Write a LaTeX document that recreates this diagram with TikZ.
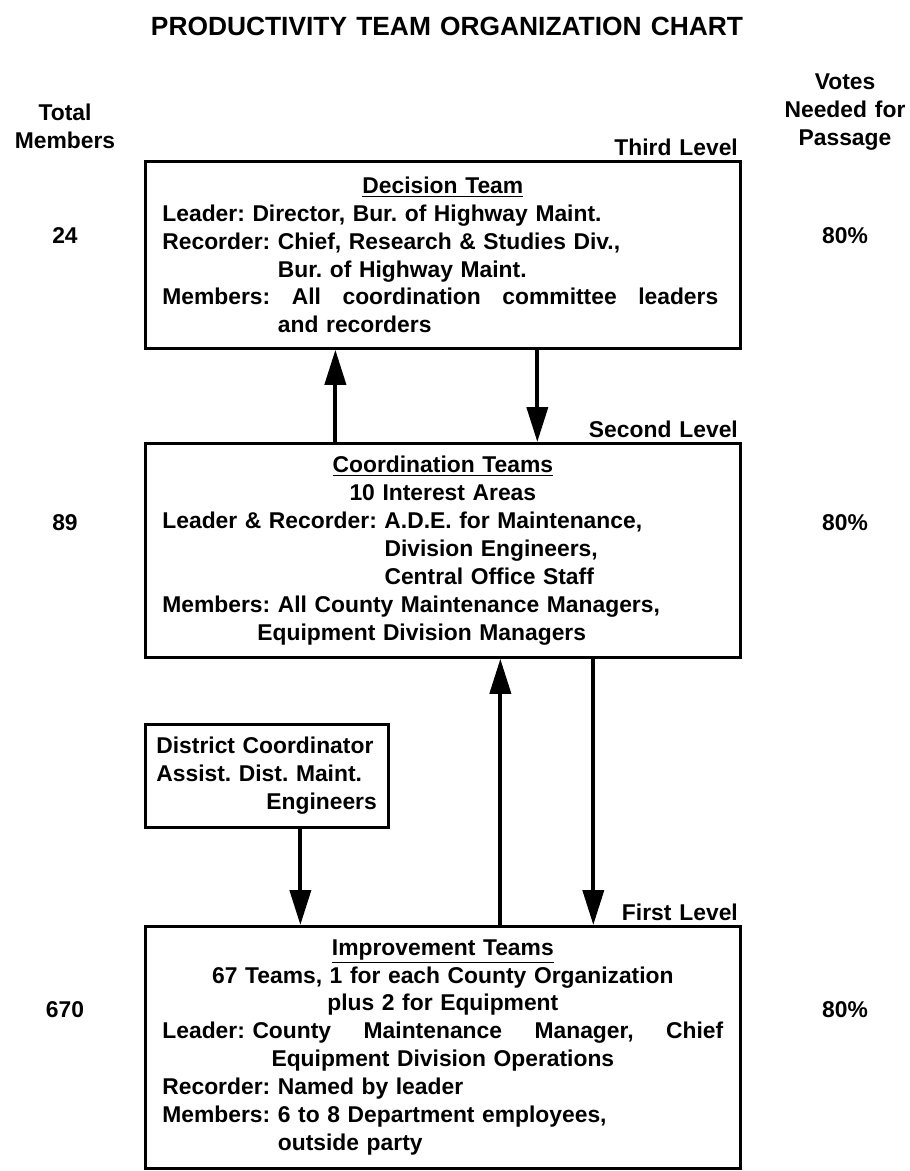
\documentclass[tikz,border=0pt]{standalone}
\usepackage{fontspec}
\setmainfont{Liberation Sans}[WordSpace=1.25]
\usetikzlibrary{arrows.meta,positioning}
\newcommand{\fullline}[1]{\makebox[\linewidth][s]{#1}}

\begin{document}
\frenchspacing
\begin{tikzpicture}[x=0.02cm,y=-0.02cm,
  every node/.style={font=\bfseries\fontsize{13}{15.9}\selectfont},
  teambox/.style={draw,line width=1.6pt,anchor=north west,align=left,text width=11.22cm,inner xsep=0.34cm},
  lbl/.style={align=center,inner sep=2pt},
  arr/.style={line width=2.2pt,-{Triangle[length=0.7cm,width=0.42cm]}}]
\useasboundingbox (0,0) rectangle (910,1171);
\node[font=\bfseries\fontsize{15}{18}\selectfont] (title) at (447,26) {PRODUCTIVITY TEAM ORGANIZATION CHART};
\node[lbl] (total) at (65,126) {Total\\Members};
\node[lbl] (votes) at (845,112) {Votes\\Needed for\\Passage};

\node[teambox,minimum height=3.74cm] (decision) at (144,160) {%
\makebox[\linewidth]{\underline{Decision Team}}\\
Leader: Director, Bur. of Highway Maint.\\
Recorder: Chief, Research \& Studies Div.,\\
\hphantom{Recorder: }Bur. of Highway Maint.\\
\fullline{Members:\hfill All\hfill coordination\hfill committee\hfill leaders\hspace{0.1cm}}\\
\hphantom{Members: }and recorders};

\node[teambox,minimum height=4.28cm] (coord) at (144,442) {%
\makebox[\linewidth]{\underline{Coordination Teams}}\\
\makebox[\linewidth]{10 Interest Areas}\\
Leader \& Recorder: A.D.E. for Maintenance,\\
\hphantom{Leader \& Recorder: }Division Engineers,\\
\hphantom{Leader \& Recorder: }Central Office Staff\\
Members: All County Maintenance Managers,\\
\hspace*{1.9cm}Equipment Division Managers};

\node[teambox,text width=4.42cm,inner xsep=0.22cm,minimum height=2.06cm] (district) at (144,723) {%
District Coordinator\\
Assist. Dist. Maint.\\
\hspace*{2.2cm}\mbox{Engineers}};

\node[teambox,minimum height=4.84cm] (improve) at (144,925) {%
\makebox[\linewidth]{\underline{Improvement Teams}}\\
\makebox[\linewidth]{67 Teams, 1 for each County Organization}\\
\makebox[\linewidth]{plus 2 for Equipment}\\
\fullline{Leader: County\hfill Maintenance\hfill Manager,\hfill Chief}\\
\makebox[\linewidth]{Equipment Division Operations}\\
Recorder: Named by leader\\
Members: 6 to 8 Department employees,\\
\hphantom{Members: }outside party};

\node[lbl,anchor=south east] (third) at (decision.north east) {Third Level};
\node[lbl,anchor=south east] (second) at (coord.north east) {Second Level};
\node[lbl,anchor=south east] (first) at (improve.north east) {First Level};

\node[lbl] (n24) at ([yshift=-1.52cm]decision.north -| total) {24};
\node[lbl] (n89) at ([yshift=-1.62cm]coord.north -| total) {89};
\node[lbl] (n670) at ([yshift=-1.7cm]improve.north -| total) {670};
\node[lbl] (v3) at ([yshift=-1.52cm]decision.north -| votes) {80\%};
\node[lbl] (v2) at ([yshift=-1.62cm]coord.north -| votes) {80\%};
\node[lbl] (v1) at ([yshift=-1.7cm]improve.north -| votes) {80\%};

\draw[arr] ([xshift=-2.15cm]coord.north) -- ([xshift=-2.15cm]decision.south);
\draw[arr] ([xshift=1.89cm]decision.south) -- ([xshift=1.89cm]coord.north);
\draw[arr] ([xshift=1.15cm]improve.north) -- ([xshift=1.15cm]coord.south);
\draw[arr] ([xshift=3.01cm]coord.south) -- ([xshift=3.01cm]improve.north);
\draw[arr] ([xshift=0.67cm]district.south) -- ([xshift=0.67cm]district.south |- improve.north);
\end{tikzpicture}
\end{document}
